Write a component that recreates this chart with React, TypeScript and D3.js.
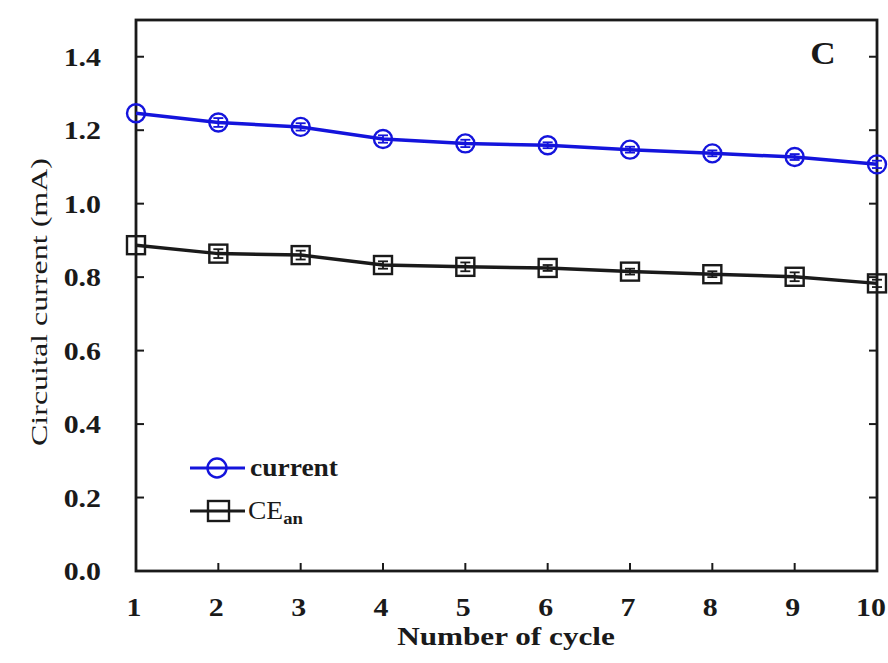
import React from "react";
import * as d3 from "d3";

const cycles = [1, 2, 3, 4, 5, 6, 7, 8, 9, 10];
const currentValues = [1.246, 1.221, 1.209, 1.176, 1.164, 1.159, 1.147, 1.137, 1.127, 1.107];
const ceValues = [0.887, 0.864, 0.86, 0.833, 0.828, 0.825, 0.815, 0.808, 0.801, 0.783];
const currentErr = [0, 0.012, 0.01, 0.01, 0.01, 0.008, 0.008, 0.008, 0.008, 0.01];
const ceErr = [0, 0.012, 0.012, 0.01, 0.012, 0.008, 0.008, 0.008, 0.012, 0.01];
const yTicks = [0, 0.2, 0.4, 0.6, 0.8, 1.0, 1.2, 1.4];
const xTicks = [1, 2, 3, 4, 5, 6, 7, 8, 9, 10];

const W = 888;
const H = 663;
const left = 136;
const right = 877;
const top = 20;
const bottom = 571;
const BLUE = "#1414dc";
const INK = "#1a1a1a";
const FONT = "'Liberation Serif', 'DejaVu Serif', serif";

// Horizontally widened serif label, anchored at (x, y)
function Wide({ x, y, anchor = "middle", size, bold = true, sx = 1.15, children }: any) {
  return (
    <g transform={`translate(${x},${y}) scale(${sx},1)`}>
      <text textAnchor={anchor} fontFamily={FONT} fontSize={size} fontWeight={bold ? "bold" : "normal"} fill={INK}>
        {children}
      </text>
    </g>
  );
}

export default function App() {
  const x = d3.scaleLinear().domain([1, 10]).range([left, right]);
  const y = d3.scaleLinear().domain([0, 1.5]).range([bottom, top]);
  const line = d3
    .line<number>()
    .x((_, i) => x(cycles[i]))
    .y((v) => y(v));

  const errBars = (vals: number[], errs: number[], color: string) =>
    vals.map((v, i) =>
      errs[i] > 0 ? (
        <g key={i} stroke={color} strokeWidth={1.8}>
          <line x1={x(cycles[i])} x2={x(cycles[i])} y1={y(v - errs[i])} y2={y(v + errs[i])} />
          <line x1={x(cycles[i]) - 5} x2={x(cycles[i]) + 5} y1={y(v - errs[i])} y2={y(v - errs[i])} />
          <line x1={x(cycles[i]) - 5} x2={x(cycles[i]) + 5} y1={y(v + errs[i])} y2={y(v + errs[i])} />
        </g>
      ) : null
    );

  return (
    <svg width={W} height={H} style={{ position: "absolute", left: 0, top: 0, background: "#fff" }}>
      {/* frame */}
      <rect x={left} y={top} width={right - left} height={bottom - top} fill="none" stroke={INK} strokeWidth={2.8} />
      {/* y ticks, left and right, pointing inward */}
      {yTicks.map((t) => (
        <g key={t} stroke={INK} strokeWidth={2}>
          <line x1={left} x2={left + 8} y1={y(t)} y2={y(t)} />
          <line x1={right} x2={right - 8} y1={y(t)} y2={y(t)} />
        </g>
      ))}
      {yTicks.map((t) => (
        <Wide key={t} x={101} y={y(t) + 9} anchor="end" size={26}>
          {t.toFixed(1)}
        </Wide>
      ))}
      {/* x ticks */}
      {xTicks.map((t) => (
        <line key={t} x1={x(t)} x2={x(t)} y1={bottom} y2={bottom - 8} stroke={INK} strokeWidth={2} />
      ))}
      {xTicks.map((t) => (
        <Wide key={t} x={x(t) - (t === 10 ? 6 : 2)} y={616} size={26}>
          {t}
        </Wide>
      ))}
      <Wide x={506} y={645} size={26} sx={1.2}>
        Number of cycle
      </Wide>
      <g transform="translate(47, 302) rotate(-90)">
        <text textAnchor="middle" fontFamily={FONT} fontSize={23} fill={INK} textLength={288} lengthAdjust="spacingAndGlyphs">
          Circuital  current  (mA)
        </text>
      </g>
      <Wide x={823} y={64} size={32} sx={1.1}>
        C
      </Wide>

      {/* CE series */}
      <path d={line(ceValues) || ""} fill="none" stroke={INK} strokeWidth={3.5} />
      {errBars(ceValues, ceErr, INK)}
      {ceValues.map((v, i) => (
        <rect key={i} x={x(cycles[i]) - 9} y={y(v) - 9} width={18} height={18} fill="none" stroke={INK} strokeWidth={2.4} />
      ))}

      {/* current series */}
      <path d={line(currentValues) || ""} fill="none" stroke={BLUE} strokeWidth={3.5} />
      {errBars(currentValues, currentErr, BLUE)}
      {currentValues.map((v, i) => (
        <circle key={i} cx={x(cycles[i])} cy={y(v)} r={9} fill="none" stroke={BLUE} strokeWidth={2.4} />
      ))}

      {/* legend */}
      <g>
        <line x1={190} x2={245} y1={468} y2={468} stroke={BLUE} strokeWidth={3} />
        <circle cx={217} cy={468} r={9.5} fill="none" stroke={BLUE} strokeWidth={2.4} />
        <Wide x={250} y={476} anchor="start" size={25} sx={1.1}>
          current
        </Wide>
        <line x1={190} x2={245} y1={511} y2={511} stroke={INK} strokeWidth={3} />
        <rect x={208} y={501} width={21} height={20} fill="none" stroke={INK} strokeWidth={2.4} />
        <g transform="translate(248,519) scale(1.1,1)">
          <text fontFamily={FONT} fontSize={25} fill={INK}>
            CE
            <tspan fontSize={17} dy={5} fontWeight="bold">an</tspan>
          </text>
        </g>
      </g>
    </svg>
  );
}
